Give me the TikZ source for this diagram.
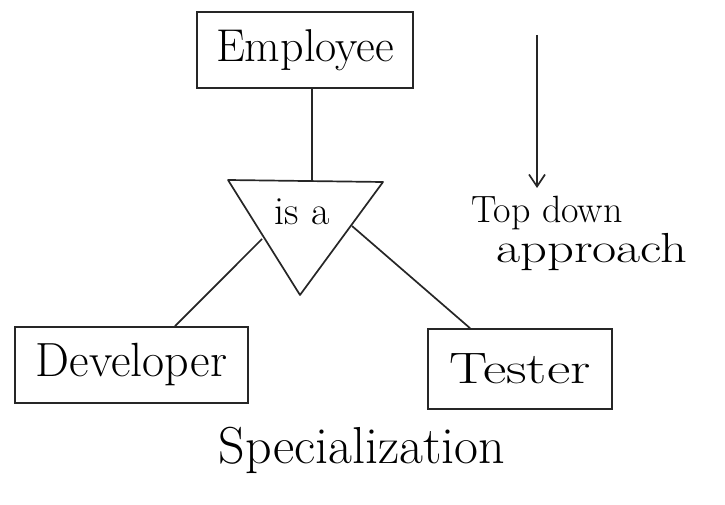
\documentclass[tikz,border=0pt]{standalone}
\usetikzlibrary{arrows.meta}
\newcommand{\fsz}[1]{\fontsize{#1}{#1}\selectfont}
\begin{document}
\begin{tikzpicture}[x=1pt,y=-1pt,
  ink/.style={line width=1.7pt,draw=black!85},
  entity/.style={ink,rectangle,inner sep=0pt},
  note/.style={inner sep=0pt}]
  \useasboundingbox (0,0) rectangle (725,505);

  % entity boxes
  \node[entity,minimum width=216pt,minimum height=76pt,font=\fsz{46}] (emp) at (305,50) {Employee};
  \node[entity,minimum width=233pt,minimum height=76pt,font=\fsz{48}] (dev) at (131.5,365) {Developer};
  \node[entity,minimum width=184pt,minimum height=80pt,font=\fsz{44}] (tst) at (520,369) {\scalebox{1.3}[1]{Tester}};

  % "is a" triangle
  \coordinate (tl) at (228,180);
  \coordinate (tr) at (383,182);
  \coordinate (tb) at (300,295);
  \draw[ink,line join=round] (tl) -- (tr) -- (tb) -- cycle;
  \node[note,font=\fsz{40}] (isa) at (302,212) {is a};
  \coordinate (ttop) at (312,181);
  \coordinate (tleft) at (262,239);
  \coordinate (tright) at (352,226);

  % connectors
  \draw[ink] (emp.south -| ttop) -- (ttop);
  \draw[ink] (tleft) -- (dev.north -| 175,0);
  \draw[ink] (tright) -- (tst.north -| 470,0);

  % direction note
  \coordinate (atop) at (537,35);
  \coordinate (abot) at (537,188);
  \draw[ink,-{Straight Barb[length=12pt,width=16pt]}] (atop) -- (abot);
  \node[note,font=\fsz{38}] (td) at (547,213) {Top down};
  \node[note,font=\fsz{42}] (ap) at (592,252) {\scalebox{1.25}[1]{approach}};

  % caption
  \node[note,font=\fsz{52}] (spec) at (362,450) {Specialization};
\end{tikzpicture}
\end{document}
